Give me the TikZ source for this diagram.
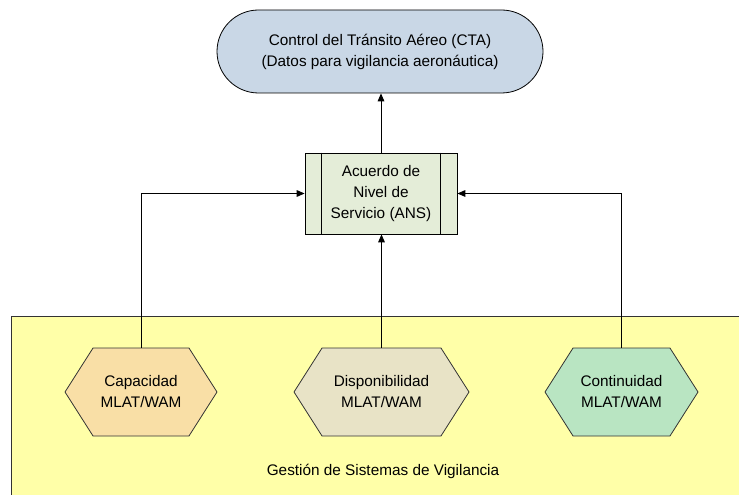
\documentclass[tikz,border=0pt]{standalone}
\usepackage{fontspec}
\setmainfont{Liberation Sans}
\usetikzlibrary{shapes.misc,shapes.symbols,arrows.meta}
\definecolor{ctafill}{HTML}{C9D7E6}
\definecolor{ansfill}{HTML}{E4EDD8}
\definecolor{capfill}{HTML}{F9DFA6}
\definecolor{dispfill}{HTML}{E8E3C6}
\definecolor{contfill}{HTML}{B9E5C2}
\definecolor{areafill}{HTML}{FFFFA8}
\tikzset{
  txt/.style={font=\fontsize{11.5}{15.75}\selectfont, align=center, text=black},
  ctabox/.style={txt, rounded rectangle, draw=black, line width=0.6pt, fill=ctafill,
    minimum width=244.5pt, minimum height=62.25pt, inner sep=0pt},
  ansbox/.style={txt, rectangle, draw=black, line width=0.6pt, fill=ansfill,
    minimum width=114pt, minimum height=60.75pt, inner sep=0pt},
  hexbox/.style={txt, signal, signal to=east and west, signal pointer angle=115,
    draw=black!80, line width=0.6pt, minimum height=66pt, inner sep=0pt},
  conn/.style={draw=black, line width=0.75pt, -{Triangle[length=6pt,width=5pt]}}
}
\begin{document}
\begin{tikzpicture}[x=0.75pt,y=-0.75pt]
  \useasboundingbox (0,0) rectangle (739,495);
  % surveillance systems management area
  \draw[fill=areafill, draw=black!80, line width=0.6pt] (11,316) rectangle (760,520);
  \node[txt] (area) at (383,471) {Gestión de Sistemas de Vigilancia};

  % air traffic control
  \node[ctabox] (cta) at (380,51.5) {Control del Tránsito Aéreo (CTA)\\(Datos para vigilancia aeronáutica)};

  % service level agreement (predefined process)
  \node[ansbox] (ans) at (381,193.5) {Acuerdo de\\Nivel de\\Servicio (ANS)};
  \draw[line width=0.6pt] ([xshift=12.75pt]ans.north west) -- ([xshift=12.75pt]ans.south west);
  \draw[line width=0.6pt] ([xshift=-12.75pt]ans.north east) -- ([xshift=-12.75pt]ans.south east);

  % indicators
  \node[hexbox, fill=capfill, minimum width=114pt] (cap) at (141,392) {Capacidad\\MLAT/WAM};
  \node[hexbox, fill=dispfill, minimum width=131.25pt] (disp) at (381.5,392) {Disponibilidad\\MLAT/WAM};
  \node[hexbox, fill=contfill, minimum width=114.75pt] (cont) at (621.5,392) {Continuidad\\MLAT/WAM};

  % connectors
  \draw[conn] (ans.north) -- (ans.north |- cta.south);
  \draw[conn] (disp.north) -- (disp.north |- ans.south);
  \draw[conn] (cap.north) |- (ans.west);
  \draw[conn] (cont.north) |- (ans.east);
\end{tikzpicture}
\end{document}
